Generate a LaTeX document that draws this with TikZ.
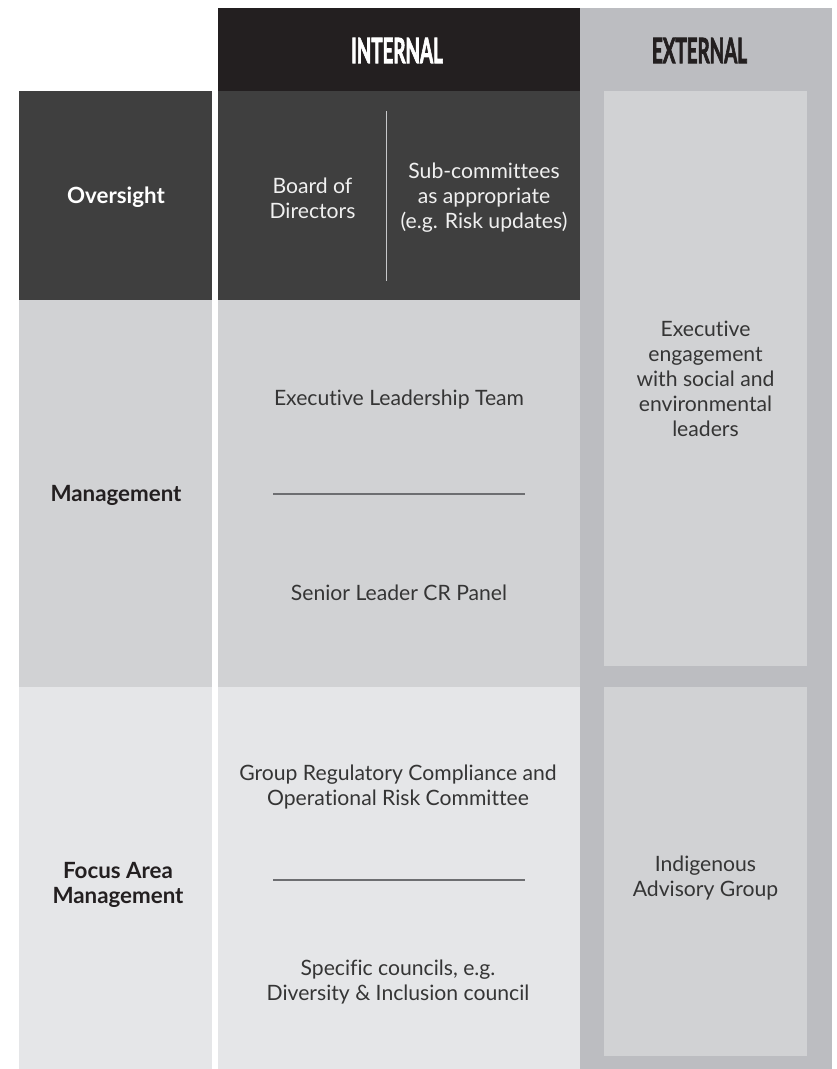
\documentclass[tikz,border=0pt]{standalone}
\usepackage{fontspec}
\setmainfont{Lato}[Ligatures={NoCommon}]
\newfontfamily\hdrfont{Lato}[BoldFeatures={FakeBold=3}]
\usepackage{graphicx}
\definecolor{hdrdark}{HTML}{231F20}
\definecolor{overs}{HTML}{3F3F3F}
\definecolor{mgmt}{HTML}{D1D2D4}
\definecolor{focus}{HTML}{E5E6E8}
\definecolor{extgray}{HTML}{BCBDC1}
\definecolor{extinner}{HTML}{D1D2D4}
\definecolor{bodytxt}{HTML}{353535}
\definecolor{divline}{HTML}{6D6E71}
\definecolor{vline}{HTML}{C7C8CA}
\definecolor{lighttxt}{HTML}{F0F0F0}
\newlength\calA
\newlength\calB
\AtBeginDocument{%
  \settowidth\calA{\fontsize{10pt}{12pt}\selectfont Executive Leadership Team}%
  \pgfmathsetmacro\bodyfs{10*250/\calA}%
  \settowidth\calA{\fontsize{10pt}{12pt}\selectfont\bfseries Management}%
  \pgfmathsetmacro\lblfs{10*131/\calA}%
  \settowidth\calA{\fontsize{35pt}{35pt}\selectfont\hdrfont\bfseries EXTERNAL}%
  \pgfmathsetmacro\hxs{95/\calA}%
  \settoheight\calB{\fontsize{35pt}{35pt}\selectfont\hdrfont\bfseries E}%
  \pgfmathsetmacro\hys{25/\calB}%
}
\def\bodyfont{\fontsize{\bodyfs pt}{25pt}\selectfont}
\def\lblfont{\fontsize{\lblfs pt}{25pt}\selectfont\bfseries}
\def\hdrtext#1{\scalebox{\hxs}[\hys]{\fontsize{35pt}{35pt}\selectfont\hdrfont\bfseries #1}}
\begin{document}
\begin{tikzpicture}[x=1pt,y=-1pt,
  txt/.style={inner sep=0pt,align=center,font=\bodyfont,text=bodytxt},
  lbl/.style={inner sep=0pt,align=center,font=\lblfont,text=hdrdark},
  hdr/.style={inner sep=0pt},
  divider/.style={draw=divline,line width=1.3pt},
  odivider/.style={draw=vline,line width=1pt}]
\useasboundingbox (0,0) rectangle (836,1069);
\fill[white] (0,0) rectangle (836,1069);
% --- external column
\fill[extgray] (580,8) rectangle (832,1069);
\fill[extinner] (604,91) rectangle (807,666);
\fill[extinner] (604,687) rectangle (807,1056);
% --- internal header
\fill[hdrdark] (218,8) rectangle (580,91);
% --- rows
\fill[overs] (19,91) rectangle (212,300);
\fill[overs] (218,91) rectangle (580,300);
\fill[mgmt] (19,300) rectangle (212,687);
\fill[mgmt] (218,300) rectangle (580,687);
\fill[focus] (19,687) rectangle (212,1069);
\fill[focus] (218,687) rectangle (580,1069);
% --- headers
\node[hdr,text=white] (internal) at (397,50.5) {\hdrtext{INTERNAL}};
\node[hdr,text=hdrdark] (external) at (699.5,50.5) {\hdrtext{EXTERNAL}};
% --- row labels
\node[lbl,text=white] (oversight) at (116,197) {Oversight};
\node[lbl] (management) at (116,495) {Management};
\node[lbl] (focusarea) at (118,884.5) {Focus Area\\Management};
% --- oversight row
\node[txt,text=lighttxt] (board) at (312.5,198.5) {Board of\\Directors};
\node[txt,text=lighttxt] (subcomm) at (484,198) {Sub-committees\\as appropriate\\(e.g. Risk updates)};
\coordinate (vtop) at (386,111);
\coordinate (vbot) at (386,281);
\draw[odivider] (vtop) -- (vbot);
% --- management row
\node[txt] (elt) at (399,400) {Executive Leadership Team};
\coordinate (mleft) at (273,494);
\coordinate (mright) at (525,494);
\draw[divider] (mleft) -- (mright);
\node[txt] (slcr) at (399,593) {Senior Leader CR Panel};
% --- focus row
\node[txt] (grc) at (398,787.5) {Group Regulatory Compliance and\\Operational Risk Committee};
\coordinate (fleft) at (273,880);
\coordinate (fright) at (525,880);
\draw[divider] (fleft) -- (fright);
\node[txt] (councils) at (398,982.5) {Specific councils, e.g.\\Diversity \& Inclusion council};
% --- external texts
\node[txt] (exeng) at (705.5,379) {Executive\\engagement\\with social and\\environmental\\leaders};
\node[txt] (indig) at (705.5,878) {Indigenous\\Advisory Group};
\end{tikzpicture}
\end{document}
